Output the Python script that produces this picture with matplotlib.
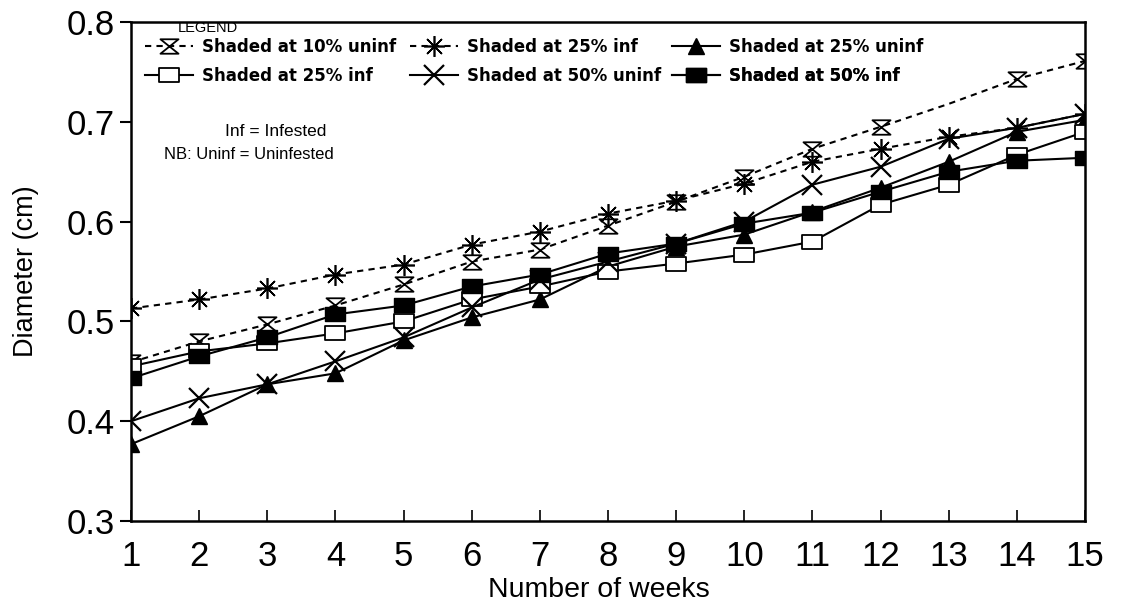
import numpy as np
import matplotlib.pyplot as plt
from matplotlib.path import Path

plt.rcParams['font.family'] = ['Liberation Sans', 'DejaVu Sans']

weeks = np.arange(1, 16)
uninf10 = [0.459, 0.480, 0.497, 0.516, 0.537, 0.560, 0.572, 0.596, 0.620, 0.645, 0.673, 0.695, 0.718, 0.743, 0.761]
inf25_dash = [0.513, 0.522, 0.533, 0.547, 0.557, 0.577, 0.590, 0.608, 0.621, 0.638, 0.660, 0.673, 0.685, 0.694, 0.708]
uninf25 = [0.377, 0.405, 0.437, 0.448, 0.481, 0.504, 0.522, 0.555, 0.575, 0.587, 0.610, 0.634, 0.660, 0.690, 0.702]
inf25 = [0.455, 0.470, 0.478, 0.488, 0.500, 0.522, 0.535, 0.550, 0.558, 0.567, 0.580, 0.617, 0.637, 0.667, 0.690]
uninf50 = [0.400, 0.423, 0.437, 0.460, 0.484, 0.514, 0.542, 0.560, 0.578, 0.600, 0.637, 0.655, 0.683, 0.694, 0.708]
inf50 = [0.443, 0.465, 0.484, 0.507, 0.516, 0.535, 0.547, 0.568, 0.578, 0.598, 0.609, 0.630, 0.650, 0.661, 0.664]

labels = ['Shaded at 10% uninf', 'Shaded at 25% inf', 'Shaded at 25% uninf',
          'Shaded at 25% inf', 'Shaded at 50% uninf', 'Shaded at 50% inf']

# custom markers: hourglass with bars, wide rectangle
hourglass = Path([(-1, 0.8), (1, 0.8), (-1, -0.8), (1, -0.8), (-1, 0.8)],
                 [Path.MOVETO, Path.LINETO, Path.LINETO, Path.LINETO, Path.CLOSEPOLY])
rect = Path([(-1, -0.72), (1, -0.72), (1, 0.72), (-1, 0.72), (-1, -0.72)],
            [Path.MOVETO, Path.LINETO, Path.LINETO, Path.LINETO, Path.CLOSEPOLY])

fig, ax = plt.subplots(figsize=(11.23, 6.05), dpi=100)
fig.subplots_adjust(left=0.1167, right=0.9662, top=0.9636, bottom=0.1388)

lw = 1.5
h1, = ax.plot(weeks, uninf10, ls=(0, (3, 2.5)), color='k', lw=lw, marker=hourglass, ms=13,
              mfc='white', mec='k', mew=1.3, markevery=[i for i in range(15) if i != 12])
h2, = ax.plot(weeks, inf25_dash, ls=(0, (3, 2.5)), color='k', lw=lw, marker=(8, 2, 0), ms=15,
              mec='k', mew=1.2)
h3, = ax.plot(weeks, uninf25, ls='-', color='k', lw=lw, marker='^', ms=12, mfc='k', mec='k')
h4, = ax.plot(weeks, inf25, ls='-', color='k', lw=lw, marker=rect, ms=15, mfc='white', mec='k', mew=1.3)
h5, = ax.plot(weeks, uninf50, ls='-', color='k', lw=lw, marker='x', ms=15, mec='k', mew=1.6)
h6, = ax.plot(weeks, inf50, ls='-', color='k', lw=lw, marker=rect, ms=15, mfc='k', mec='k')

ax.set_xlim(1, 15)
ax.set_ylim(0.3, 0.8)
ax.set_xticks(weeks)
ax.set_yticks([0.3, 0.4, 0.5, 0.6, 0.7, 0.8])
ax.set_yticklabels(['0.3', '0.4', '0.5', '0.6', '0.7', '0.8'])
ax.tick_params(axis='y', direction='out', length=8, width=1.5, labelsize=25, pad=4)
ax.tick_params(axis='x', direction='in', length=8, width=1.2, labelsize=25, pad=14)
for s in ax.spines.values():
    s.set_linewidth(1.8)

ax.set_xlabel('Number of weeks', fontsize=20.5)
ax.xaxis.set_label_coords(0.49, -0.112)
ax.set_ylabel('Diameter (cm)', fontsize=19.5)
ax.yaxis.set_label_coords(-0.097, 0.5)

# legend: one small legend per entry, placed like the original key
legfont = {'family': 'DejaVu Sans', 'weight': 'bold', 'size': 12}
handles = [h1, h2, h3, h4, h5, h6]
anchors = [(145, 47), (410, 47), (672, 47), (145, 76), (410, 76), (672, 76)]
for h, lab, (px, py) in zip(handles, labels, anchors):
    lg = ax.legend([h], [lab], loc='center left',
                   bbox_to_anchor=((px - 131) / 954, (521 - py) / 499),
                   frameon=False, prop=legfont, handlelength=2.9, handletextpad=0.5,
                   borderpad=0, borderaxespad=0)
    ax.add_artist(lg)

ax.text((178 - 131) / 954, (521 - 28) / 499, 'LEGEND', transform=ax.transAxes,
        fontsize=10.5, ha='left', va='center')
ax.text(0.152, 0.78, 'Inf = Infested', transform=ax.transAxes, fontsize=12.5,
        ha='center', va='center')
ax.text(0.124, 0.735, 'NB: Uninf = Uninfested', transform=ax.transAxes, fontsize=12,
        ha='center', va='center')

fig.savefig('out.png', dpi=100)
